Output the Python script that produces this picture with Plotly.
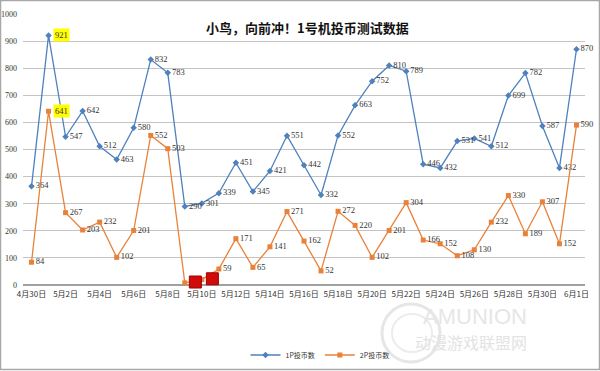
import plotly.graph_objects as go

dates = ["4月30日"] + [f"5月{d}日" for d in range(1, 32)] + ["6月1日"]
p1 = [364, 921, 547, 642, 512, 463, 580, 832, 783, 290, 301, 339, 451, 345, 421, 551, 442,
      332, 552, 663, 752, 810, 789, 446, 432, 531, 541, 512, 699, 782, 587, 432, 870]
p2 = [84, 641, 267, 203, 232, 102, 201, 552, 503, 8, 20, 59, 171, 65, 141, 271, 162,
      52, 272, 220, 102, 201, 304, 166, 152, 108, 130, 232, 330, 189, 307, 152, 590]
highlight_idx = [1]      # labels drawn on yellow
hidden_idx = [9, 10]     # 2P labels covered by red boxes
yticks = [0, 100, 200, 300, 400, 500, 600, 700, 800, 900, 1000]

W, H = 600, 371
L, R, T, B = 23, 15, 14, 86
PW, PH = W - L - R, H - T - B
def pxx(x): return (x - L) / PW
def pxy(y): return (H - B - y) / PH

idx = list(range(len(dates)))
blue = "#4f81bd"
orange = "#e8823a"
lblfont = dict(family="Liberation Serif, Noto Sans CJK SC", size=8.5, color="#333333")

def labels(vals, skip):
    return [("" if i in skip else str(v)) for i, v in enumerate(vals)]

fig = go.Figure()
fig.add_trace(go.Scatter(
    x=idx, y=p1, mode="lines+markers+text", name="1P投币数",
    line=dict(color=blue, width=1.3),
    marker=dict(symbol="diamond", size=5, color=blue),
    text=labels(p1, highlight_idx), textposition="middle right", textfont=lblfont,
    cliponaxis=False))
fig.add_trace(go.Scatter(
    x=idx, y=p2, mode="lines+markers+text", name="2P投币数",
    line=dict(color=orange, width=1.3),
    marker=dict(symbol="square", size=5, color=orange),
    text=labels(p2, highlight_idx + hidden_idx), textposition="middle right", textfont=lblfont,
    cliponaxis=False))
# red boxes covering hidden labels
fig.add_trace(go.Scatter(
    x=[i + 0.62 for i in hidden_idx], y=[p2[i] + 3 for i in hidden_idx],
    mode="markers", showlegend=False, hoverinfo="skip",
    marker=dict(symbol="square", size=12, color="#d10a0a", line=dict(color="#a00000", width=1)),
    cliponaxis=False))

annotations = []
for i in highlight_idx:
    for vals in (p1, p2):
        annotations.append(dict(x=i, y=vals[i], xref="x", yref="y", text=str(vals[i]),
                                showarrow=False, xanchor="left", xshift=4,
                                bgcolor="#ffff00", borderpad=1, font=lblfont))
annotations.append(dict(x=pxx(307), y=pxy(15), xref="paper", yref="paper",
                        text="<b>小鸟，向前冲！1号机投币测试数据</b>", showarrow=False,
                        bgcolor="white", borderpad=2,
                        font=dict(family="Noto Sans CJK SC", size=13, color="#111111")))
# watermark
annotations.append(dict(x=pxx(528), y=pxy(330), xref="paper", yref="paper", text="AMUNION",
                        showarrow=False, borderpad=0,
                        font=dict(family="Liberation Sans", size=22, color="#e6e6e6")))
annotations.append(dict(x=pxx(528), y=pxy(355), xref="paper", yref="paper", text="动漫游戏联盟网",
                        showarrow=False, borderpad=0,
                        font=dict(family="Noto Sans CJK SC", size=16, color="#e3e3e3")))

shapes = [
    dict(type="circle", xref="paper", yref="paper", x0=pxx(382), x1=pxx(440), y0=pxy(362), y1=pxy(304),
         line=dict(color="#e6e6e6", width=3), layer="below"),
    dict(type="circle", xref="paper", yref="paper", x0=pxx(392), x1=pxx(432), y0=pxy(352), y1=pxy(314),
         line=dict(color="#ececec", width=2), layer="below"),
    dict(type="rect", xref="paper", yref="paper", x0=pxx(0.5), x1=pxx(599.5), y0=pxy(369.5), y1=pxy(0.5),
         line=dict(color="#a8a8a8", width=1.5)),
]

fig.update_layout(
    width=W, height=H, margin=dict(l=L, r=R, t=T, b=B, pad=0, autoexpand=False),
    paper_bgcolor="white", plot_bgcolor="white",
    showlegend=True,
    legend=dict(orientation="h", x=pxx(320), y=pxy(355), xanchor="center", yanchor="middle",
                font=dict(family="Noto Sans CJK SC", size=7, color="#333333"),
                itemwidth=30, tracegroupgap=0, bgcolor="rgba(0,0,0,0)"),
    annotations=annotations, shapes=shapes,
)
fig.update_xaxes(range=[-0.5, len(dates) - 0.5], tickvals=idx[::2], ticktext=dates[::2],
                 showgrid=False, zeroline=False, showline=False, ticks="", automargin=False,
                 ticklabelstandoff=3,
                 tickfont=dict(family="Noto Sans CJK SC", size=8, color="#333333"))
fig.update_yaxes(range=[0, 1000], tickvals=yticks, showgrid=True, gridcolor="#c4c4c4", gridwidth=1,
                 zeroline=True, zerolinecolor="#a0a0a0", showline=False, ticks="", ticklabelstandoff=5,
                 automargin=False,
                 tickfont=dict(family="Liberation Serif", size=8, color="#333333"))
fig.write_html("out.html", config={"displayModeBar": False},
               post_script="document.body.style.margin='0';document.body.style.overflow='hidden';")
